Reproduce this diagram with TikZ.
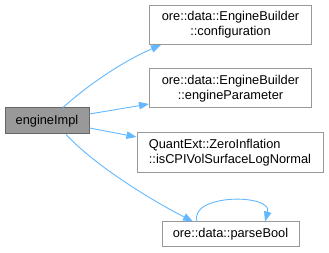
\documentclass[tikz,border=0pt]{standalone}
\usepackage{fontspec}
\setmainfont{Liberation Sans}
\usetikzlibrary{arrows.meta}
\definecolor{edgeblue}{HTML}{63B8FF}
\definecolor{rootfill}{HTML}{999999}
\definecolor{rootline}{HTML}{666666}
\definecolor{boxline}{HTML}{999999}
\begin{document}
\begin{tikzpicture}[x=1pt,y=-1pt,
  fn/.style={draw=boxline, fill=white, line width=1pt, rectangle, inner sep=0pt,
    font=\fontsize{12.8}{15}\selectfont, text=black},
  root/.style={fn, draw=rootline, fill=rootfill},
  call/.style={draw=edgeblue, line width=0.9pt,
    -{Triangle[length=10pt,width=7.5pt,fill=edgeblue]}}]
  \useasboundingbox (0,0) rectangle (329,253);

  % functions
  \node[root, minimum width=84pt, minimum height=26pt] (impl) at (47,121) {engineImpl};
  \node[fn, minimum width=162pt, minimum height=39pt, align=center] (conf) at (230.5,25)
    {ore::data::EngineBuilder\\::configuration};
  \node[fn, minimum width=162pt, minimum height=39pt, align=center] (epar) at (230.5,88.5)
    {ore::data::EngineBuilder\\::engineParameter};
  \node[fn, minimum width=186pt, minimum height=40pt, align=left] (zinf) at (230,153)
    {QuantExt::ZeroInflation\\::isCPIVolSurfaceLogNormal};
  \node[fn, minimum width=137pt, minimum height=25pt] (pbool) at (230.5,234.5)
    {ore::data::parseBool};

  % calls
  \draw[call] ([xshift=16pt]impl.north) .. controls +(22,-20) and +(-40,17) .. ([xshift=-69.5pt]conf.south);
  \draw[call] ([yshift=7pt]impl.east) -- ([yshift=-15.5pt]epar.west);
  \draw[call] ([yshift=-7pt]impl.east) -- ([yshift=16pt]zinf.west);
  \draw[call] ([xshift=19pt]impl.south) .. controls +(29,31) and +(-43,-22) .. ([xshift=-37.5pt]pbool.north);
  \draw[call] ([xshift=-33.5pt]pbool.north) .. controls +(-8,-28) and +(8,-28) .. ([xshift=34.5pt]pbool.north);
\end{tikzpicture}
\end{document}
